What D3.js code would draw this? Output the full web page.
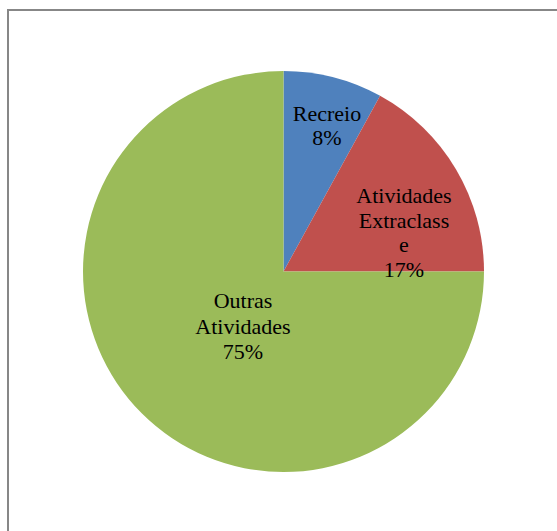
<!DOCTYPE html>
<html>
<head>
<meta charset="utf-8">
<script src="https://cdn.jsdelivr.net/npm/d3@7"></script>
<style>
  html, body { margin: 0; padding: 0; background: #ffffff; }
  svg { display: block; }
</style>
</head>
<body>
<svg id="chart" width="557" height="531"></svg>
<script>
// Share of time by activity
const categories = ["Recreio", "Atividades Extraclasse", "Outras Atividades"];
const values = [8, 17, 75];
// Label text as it wraps inside each slice
const labelLines = [
  ["Recreio", "8%"],
  ["Atividades", "Extraclass", "e", "17%"],
  ["Outras", "Atividades", "75%"]
];
const colors = ["#4F81BD", "#C0504D", "#9BBB59"];

const svg = d3.select("#chart");
const width = 557, height = 531;

// Chart area frame
svg.append("rect")
  .attr("x", 8).attr("y", 10)
  .attr("width", width + 20).attr("height", height + 20)
  .attr("fill", "#ffffff")
  .attr("stroke", "#878787")
  .attr("stroke-width", 2);

const cx = 283.5, cy = 271.5, radius = 200.5;

const pie = d3.pie().sort(null).value(d => d)(values);
const arc = d3.arc().innerRadius(0).outerRadius(radius);

const g = svg.append("g").attr("transform", `translate(${cx},${cy})`);

g.selectAll("path.slice")
  .data(pie)
  .join("path")
  .attr("class", "slice")
  .attr("d", arc)
  .attr("fill", (d, i) => colors[i]);

// Label anchors (x centre, first baseline) relative to the pie centre
const labelAnchor = [
  { x: 43.5, y: -150.5, step: 24 },
  { x: 120.5, y: -68.5, step: 24.7 },
  { x: -40.5, y: 36.8, step: 25.5 }
];

const labels = g.selectAll("text.label")
  .data(pie)
  .join("text")
  .attr("class", "label")
  .attr("text-anchor", "middle")
  .attr("font-family", "'Liberation Serif', 'Times New Roman', serif")
  .attr("font-size", 22)
  .attr("fill", "#000000");

labels.each(function(d, i) {
  const a = labelAnchor[i];
  d3.select(this).selectAll("tspan")
    .data(labelLines[i])
    .join("tspan")
    .attr("x", a.x)
    .attr("y", (t, j) => a.y + j * a.step)
    .text(t => t);
});
</script>
</body>
</html>
